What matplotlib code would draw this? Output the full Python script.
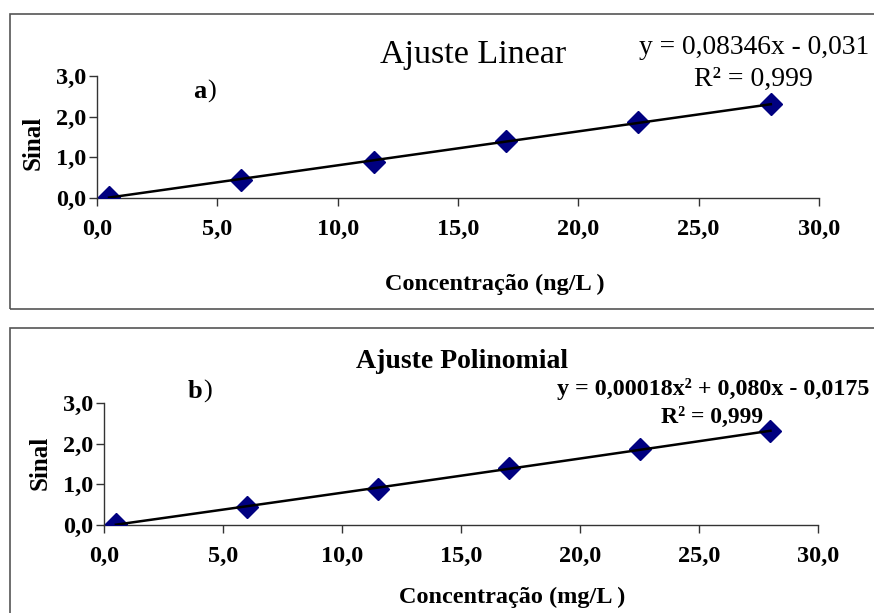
import numpy as np
import matplotlib
matplotlib.use('Agg')
import matplotlib.pyplot as plt
from matplotlib.patches import Rectangle
from matplotlib.ticker import FuncFormatter

plt.rcParams['font.family'] = ['Liberation Serif', 'DejaVu Serif']

# data
conc = [0.5, 6.0, 11.5, 17.0, 22.5, 28.0]
sinal_a = [0.02, 0.44, 0.88, 1.40, 1.87, 2.31]
sinal_b = [0.02, 0.45, 0.89, 1.40, 1.87, 2.30]
xticks = [0, 5, 10, 15, 20, 25, 30]
yticks = [0, 1, 2, 3]

lin_coef = [0.08346, -0.031]

fig = plt.figure(figsize=(8.74, 6.13), dpi=100)

# panel borders
for y0, h in [(0.496, 0.481), (-0.02, 0.485)]:
    fig.patches.append(Rectangle((0.011, y0), 1.0, h, transform=fig.transFigure,
                                 fill=False, edgecolor='#555555', lw=1.2))

comma = FuncFormatter(lambda v, p: f'{v:.1f}'.replace('.', ','))


def style(ax):
    ax.set_xlim(0, 30)
    ax.set_ylim(0, 3)
    ax.set_xticks(xticks)
    ax.set_yticks(yticks)
    ax.xaxis.set_major_formatter(comma)
    ax.yaxis.set_major_formatter(comma)
    for s in ['top', 'right']:
        ax.spines[s].set_visible(False)
    for s in ['left', 'bottom']:
        ax.spines[s].set_color('#333333')
        ax.spines[s].set_linewidth(1.0)
    ax.tick_params(direction='out', length=6, width=1, color='#333333',
                   labelsize=17.5)
    ax.tick_params(axis='x', pad=9)
    ax.tick_params(axis='y', pad=2)
    for lab in ax.get_xticklabels() + ax.get_yticklabels():
        lab.set_fontweight('bold')


# a) linear fit
ax1 = fig.add_axes([0.111, 0.677, 0.826, 0.199])
style(ax1)
ax1.plot(conc, sinal_a, 'D', color='#000080', ms=11, zorder=3)
xf = np.linspace(conc[0], conc[-1], 50)
ax1.plot(xf, np.polyval(lin_coef, xf), color='black', lw=1.8, zorder=4)
fig.text(33 / 874, 1 - 143 / 613, 'Sinal', fontsize=18, fontweight='bold',
         rotation=90, ha='center', va='center')
fig.text(495 / 874, 1 - 284 / 613, 'Concentração (ng/L )', fontsize=17.5,
         fontweight='bold', ha='center', va='center')
fig.text(473 / 874, 1 - 55 / 613, 'Ajuste Linear', fontsize=24.5,
         ha='center', va='center')
fig.text(869 / 874, 1 - 47 / 613, 'y = 0,08346x - 0,031', fontsize=19.8,
         ha='right', va='center')
fig.text(753 / 874, 1 - 79 / 613, 'R² = 0,999', fontsize=20,
         ha='center', va='center')
fig.text(193 / 874, 1 - 91 / 613, 'a', fontsize=19, fontweight='bold',
         ha='left', va='center')
fig.text(207 / 874, 1 - 91 / 613, ')', fontsize=19,
         ha='left', va='center')

# b) polynomial fit
ax2 = fig.add_axes([0.119, 0.1436, 0.817, 0.199])
style(ax2)
ax2.plot(conc, sinal_b, 'D', color='#000080', ms=11, zorder=3)
ax2.plot(xf, np.polyval(np.polyfit(conc, sinal_b, 2), xf), color='black',
         lw=1.8, zorder=4)
fig.text(40 / 874, 1 - 463 / 613, 'Sinal', fontsize=18, fontweight='bold',
         rotation=90, ha='center', va='center')
fig.text(512 / 874, 1 - 597 / 613, 'Concentração (mg/L )', fontsize=17.5,
         fontweight='bold', ha='center', va='center')
fig.text(462 / 874, 1 - 362 / 613, 'Ajuste Polinomial', fontsize=20,
         fontweight='bold', ha='center', va='center')
fig.text(869 / 874, 1 - 389 / 613, 'y = 0,00018x² + 0,080x - 0,0175',
         fontsize=17.3, fontweight='bold', ha='right', va='center')
fig.text(712 / 874, 1 - 417 / 613, 'R² = 0,999', fontsize=17,
         fontweight='bold', ha='center', va='center')
fig.text(188 / 874, 1 - 391 / 613, 'b', fontsize=19, fontweight='bold',
         ha='left', va='center')
fig.text(203 / 874, 1 - 391 / 613, ')', fontsize=19,
         ha='left', va='center')

fig.savefig('out.png', dpi=100)
